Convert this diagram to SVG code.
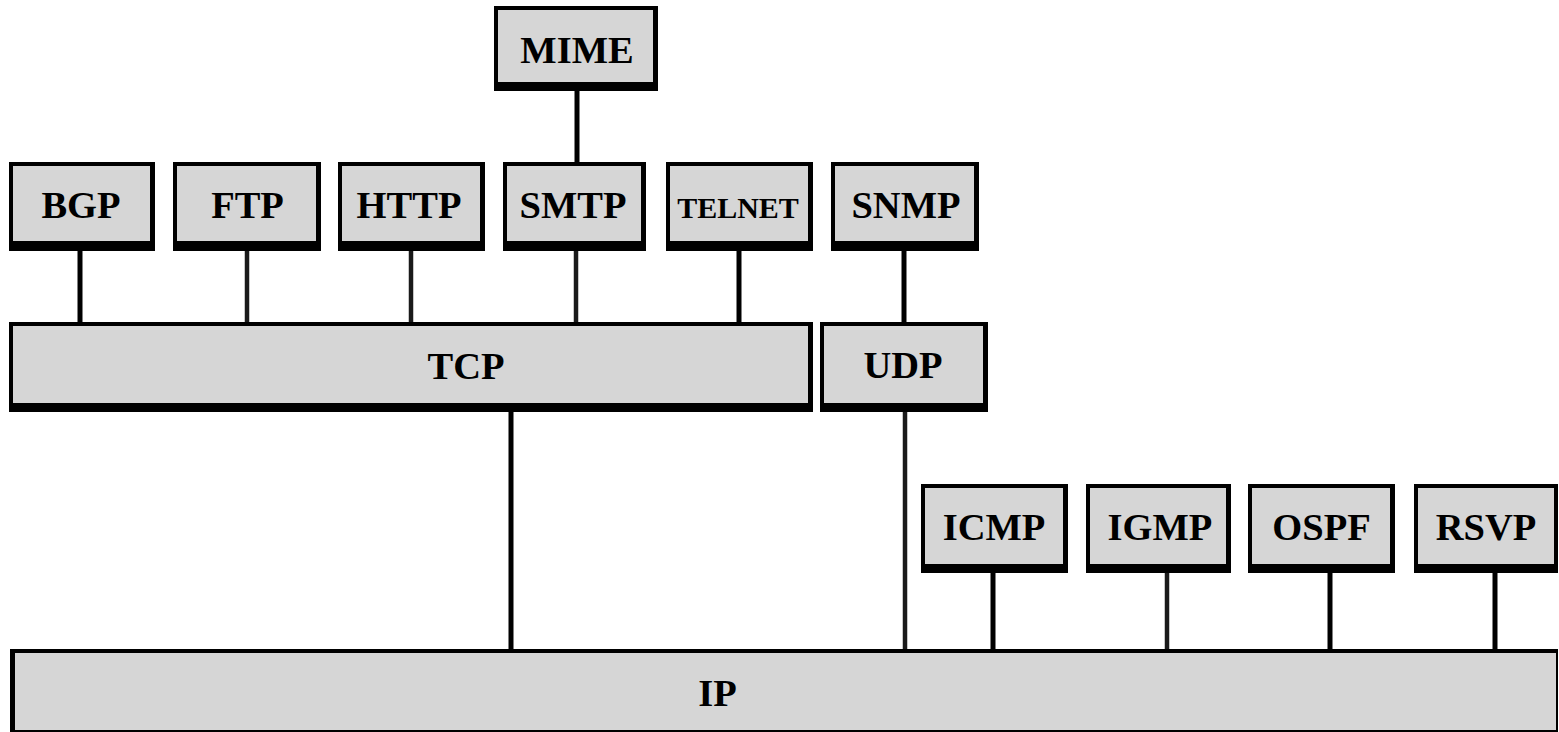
<svg xmlns="http://www.w3.org/2000/svg" width="1559" height="732" viewBox="0 0 1559 732">
<style>
.o{fill:#000}
.i{fill:#d6d6d6}
.t{font-family:"Liberation Serif","Times New Roman",serif;font-weight:bold;font-size:38.5px;fill:#000;text-anchor:middle}
.s{font-size:30px}
.c line{stroke:#000;stroke-width:5}
.c line.g{stroke:#1a1a1a;stroke-width:4.5}
</style>
<rect width="1559" height="732" fill="#fff"/>
<g class="c" id="connectors">
<line x1="577" y1="90" x2="577" y2="163"/>
<line x1="80" y1="250" x2="80" y2="323"/>
<line class="g" x1="247" y1="250" x2="247" y2="323"/>
<line class="g" x1="411" y1="250" x2="411" y2="323"/>
<line class="g" x1="576" y1="250" x2="576" y2="323"/>
<line x1="739" y1="250" x2="739" y2="323"/>
<line x1="904" y1="250" x2="904" y2="323"/>
<line x1="511" y1="411" x2="511" y2="650"/>
<line class="g" x1="905" y1="411" x2="905" y2="650"/>
<line x1="993" y1="572" x2="993" y2="650"/>
<line class="g" x1="1167" y1="572" x2="1167" y2="650"/>
<line x1="1330" y1="572" x2="1330" y2="650"/>
<line x1="1495" y1="572" x2="1495" y2="650"/>
</g>
<g id="MIME"><rect class="o" x="494" y="6" width="164" height="85"/><rect class="i" x="498" y="10" width="155" height="72"/><text class="t" x="577" y="63">MIME</text></g>
<g id="BGP"><rect class="o" x="9" y="162" width="146" height="89"/><rect class="i" x="13" y="166" width="137" height="75"/><text class="t" x="81" y="218">BGP</text></g>
<g id="FTP"><rect class="o" x="173" y="162" width="148" height="89"/><rect class="i" x="177" y="166" width="139" height="75"/><text class="t" x="247.5" y="218">FTP</text></g>
<g id="HTTP"><rect class="o" x="338" y="162" width="147" height="89"/><rect class="i" x="342" y="166" width="138" height="75"/><text class="t" x="409" y="218">HTTP</text></g>
<g id="SMTP"><rect class="o" x="503" y="162" width="143" height="89"/><rect class="i" x="507" y="166" width="134" height="75"/><text class="t" x="573" y="218">SMTP</text></g>
<g id="TELNET"><rect class="o" x="666" y="162" width="147" height="89"/><rect class="i" x="670" y="166" width="138" height="75"/><text class="t s" x="738" y="218">TELNET</text></g>
<g id="SNMP"><rect class="o" x="831" y="162" width="148" height="89"/><rect class="i" x="835" y="166" width="139" height="75"/><text class="t" x="906" y="218">SNMP</text></g>
<g id="TCP"><rect class="o" x="9" y="322" width="804" height="90"/><rect class="i" x="13" y="326" width="795" height="77"/><text class="t" x="466" y="379">TCP</text></g>
<g id="UDP"><rect class="o" x="820" y="322" width="168" height="90"/><rect class="i" x="824" y="326" width="159" height="77"/><text class="t" x="903" y="378">UDP</text></g>
<g id="ICMP"><rect class="o" x="921" y="484" width="147" height="89"/><rect class="i" x="925" y="488" width="138" height="76"/><text class="t" x="994" y="540">ICMP</text></g>
<g id="IGMP"><rect class="o" x="1086" y="484" width="145" height="89"/><rect class="i" x="1090" y="488" width="136" height="76"/><text class="t" x="1160" y="540">IGMP</text></g>
<g id="OSPF"><rect class="o" x="1248" y="484" width="147" height="89"/><rect class="i" x="1252" y="488" width="138" height="76"/><text class="t" x="1321.5" y="540">OSPF</text></g>
<g id="RSVP"><rect class="o" x="1414" y="484" width="144" height="89"/><rect class="i" x="1418" y="488" width="136" height="76"/><text class="t" x="1486" y="540">RSVP</text></g>
<g id="IP"><rect class="o" x="10" y="649" width="1548" height="95"/><rect class="i" x="15" y="653" width="1541" height="77"/><text class="t" x="717.5" y="706">IP</text></g>
</svg>
